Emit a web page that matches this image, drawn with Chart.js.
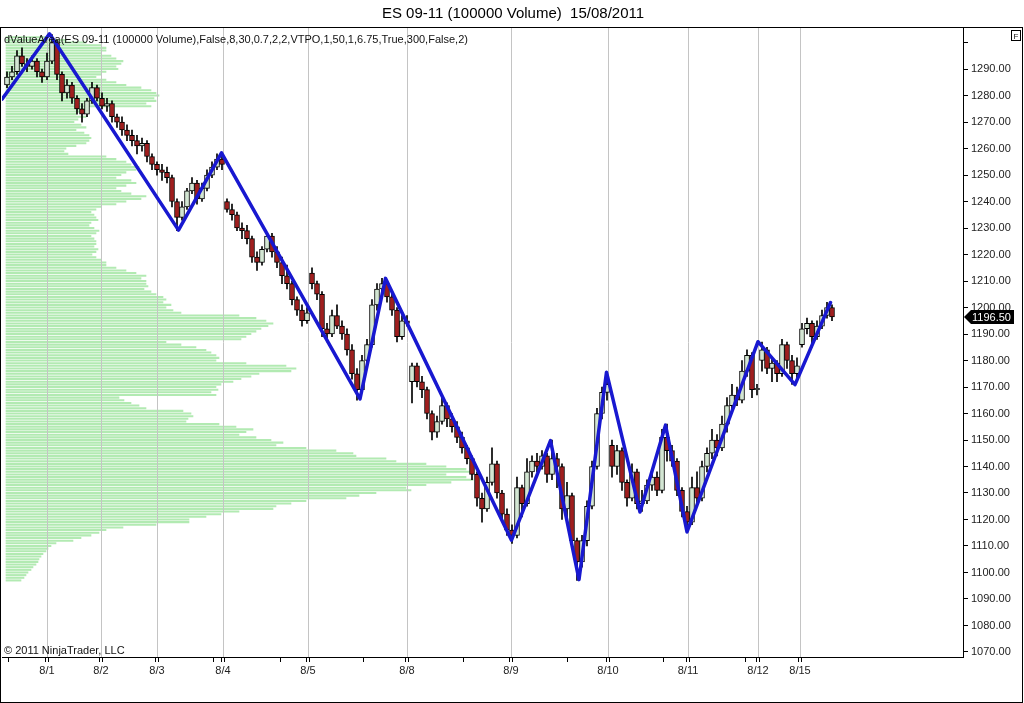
<!DOCTYPE html>
<html lang="en">
<head>
    <meta charset="UTF-8">
    <title>ES 09-11 (100000 Volume)</title>
    <script src="https://cdn.jsdelivr.net/npm/chart.js"></script>
    <style>
        body { margin: 0; background: #fff; }
        #wrap { position: relative; width: 1024px; height: 703px; }
        #profileBox { position: absolute; left: 2px; top: 28px; width: 961px; height: 629px; z-index: 0; }
        #mainBox { position: absolute; left: 0; top: 0; width: 1024px; height: 703px; z-index: 1; }
    </style>
</head>
<body>
<div id="wrap">
    <div id="profileBox"><canvas id="profileChart"></canvas></div>
    <div id="mainBox"><canvas id="priceChart"></canvas></div>
</div>
<script>
const TITLE = 'ES 09-11 (100000 Volume)  15/08/2011';
const INDICATOR = 'dValueArea(ES 09-11 (100000 Volume),False,8,30,0.7,2,2,VTPO,1,50,1,6.75,True,300,False,2)';
const COPYRIGHT = '\u00a9 2011 NinjaTrader, LLC';

// price axis
const Y_MIN = 1068.1;
const Y_MAX = 1305.5;
const PRICE_TICKS = [1070, 1080, 1090, 1100, 1110, 1120, 1130, 1140, 1150, 1160, 1170, 1180, 1190, 1200, 1210, 1220, 1230, 1240, 1250, 1260, 1270, 1280, 1290, 1300];

// session starts (bar index) and labels, plus the small hour marks between them
const DATE_POS = [9, 19.8, 31, 44.2, 61.2, 81, 101.8, 121.2, 137.2, 151.2, 159.6];
const DATE_LABELS = ['8/1', '8/2', '8/3', '8/4', '8/5', '8/8', '8/9', '8/10', '8/11', '8/12', '8/15'];
const MINOR_POS = [1.2, 42.2, 55.6, 72.2, 92.2, 113, 132.2, 148.6];
const X_MAX = 192.2;

// candles, bar 1..166
const OPENS = [
    1284,1287,1289,1295,1292,1291,1293,1289,1287,1293,
    1300,1288,1281,1284,1279,1275,1273,1278,1283,1279,
    1276,1277,1272,1270,1267,1265,1263,1261,1262,1257,
    1254,1252,1251,1249,1240,1234,1238,1244,1247,1241,
    1245,1250,1253,1256,1240,1237,1235,1230,1229,1226,
    1219,1217,1222,1227,1221,1217,1212,1209,1203,1199,
    1195,1213,1209,1205,1192,1190,1197,1193,1190,1184,
    1175,1169,1180,1186,1201,1207,1209,1204,1199,1189,
    1195,1172,1178,1172,1169,1160,1153,1157,1163,1158,
    1155,1151,1147,1143,1137,1128,1124,1134,1141,1130,
    1122,1116,1114,1132,1126,1138,1142,1140,1144,1137,
    1143,1140,1124,1129,1112,1104,1112,1125,1140,1160,
    1168,1148,1140,1146,1134,1128,1138,1126,1127,1133,
    1136,1131,1151,1146,1142,1131,1123,1119,1132,1128,
    1140,1145,1150,1147,1156,1163,1167,1165,1176,1182,
    1169,1180,1184,1177,1179,1175,1186,1180,1175,1186,
    1192,1194,1189,1193,1197,1200
];
const HIGHS = [
    1289,1291,1297,1298,1294,1295,1294,1290,1296,1303,
    1301,1289,1286,1285,1280,1277,1279,1285,1284,1281,
    1279,1278,1273,1272,1269,1267,1265,1264,1263,1258,
    1255,1254,1253,1250,1241,1240,1245,1249,1248,1247,
    1252,1255,1258,1258,1241,1239,1236,1232,1231,1227,
    1221,1223,1228,1228,1223,1219,1216,1210,1204,1201,
    1200,1215,1210,1206,1194,1199,1201,1195,1192,1186,
    1177,1182,1188,1203,1209,1211,1210,1206,1200,1197,
    1197,1179,1179,1174,1170,1161,1159,1167,1164,1160,
    1157,1153,1148,1144,1138,1130,1136,1147,1142,1131,
    1124,1118,1136,1133,1143,1144,1145,1146,1145,1150,
    1145,1141,1134,1130,1113,1114,1127,1142,1162,1170,
    1175,1150,1148,1147,1135,1141,1139,1131,1135,1139,
    1138,1154,1156,1148,1143,1132,1125,1136,1138,1142,
    1147,1154,1152,1159,1166,1171,1170,1180,1184,1183,
    1171,1187,1185,1181,1180,1188,1187,1182,1181,1194,
    1196,1195,1195,1199,1202,1201
];
const LOWS = [
    1283,1286,1288,1291,1289,1290,1287,1285,1286,1292,
    1286,1278,1279,1277,1273,1270,1272,1277,1278,1275,
    1274,1270,1268,1265,1263,1261,1258,1259,1255,1252,
    1250,1248,1247,1238,1229,1233,1237,1243,1239,1240,
    1244,1249,1252,1252,1236,1233,1229,1226,1224,1217,
    1214,1216,1221,1219,1215,1209,1207,1201,1197,1193,
    1194,1207,1203,1189,1187,1189,1192,1188,1182,1173,
    1165,1168,1179,1185,1199,1204,1202,1197,1187,1188,
    1193,1164,1170,1166,1158,1150,1151,1156,1155,1153,
    1149,1145,1141,1135,1125,1119,1123,1133,1128,1120,
    1114,1111,1113,1121,1125,1136,1138,1139,1134,1135,
    1132,1120,1118,1109,1097,1102,1110,1124,1139,1158,
    1165,1136,1137,1131,1125,1127,1124,1123,1126,1131,
    1129,1130,1142,1140,1129,1121,1115,1118,1125,1127,
    1138,1143,1144,1146,1153,1160,1163,1164,1174,1166,
    1167,1176,1175,1172,1172,1174,1177,1171,1173,1185,
    1190,1185,1188,1192,1196,1195
];
const CLOSES = [
    1287,1289,1295,1292,1291,1293,1289,1287,1293,1300,
    1288,1281,1284,1279,1275,1273,1278,1283,1279,1276,
    1277,1272,1270,1267,1265,1263,1261,1262,1257,1254,
    1252,1251,1249,1240,1234,1238,1244,1247,1241,1245,
    1250,1253,1256,1254,1237,1235,1230,1229,1226,1219,
    1217,1222,1227,1221,1217,1212,1209,1203,1199,1195,
    1198,1209,1205,1192,1190,1197,1193,1190,1184,1175,
    1169,1180,1186,1201,1207,1209,1204,1199,1189,1195,
    1194,1178,1172,1169,1160,1153,1157,1163,1158,1155,
    1151,1147,1143,1137,1128,1124,1134,1141,1130,1122,
    1116,1114,1132,1126,1138,1142,1140,1144,1137,1143,
    1140,1124,1129,1112,1104,1112,1125,1140,1160,1168,
    1171,1140,1146,1134,1128,1138,1126,1127,1133,1136,
    1131,1151,1146,1142,1131,1123,1119,1132,1128,1140,
    1145,1150,1147,1156,1163,1167,1165,1176,1182,1169,
    1169.5,1184,1177,1179,1175,1186,1180,1175,1178,1192,
    1194,1189,1193,1197,1200,1196.5
];

// zigzag swing points (bar index, price)
const ZZ_X = [0, 9.5, 35.3, 43.9, 71.6, 76.7, 101.9, 109.7, 115.4, 120.9, 127.6, 132.7, 137, 151.2, 158.6, 165.7];
const ZZ_Y = [1278.6, 1303.3, 1229.2, 1258.4, 1165.5, 1211, 1112.2, 1149.8, 1097.3, 1175.6, 1122.8, 1155.6, 1115.3, 1187.1, 1170.9, 1201.9];

// volume profile, one value per point from PROFILE_TOP downwards
const PROFILE_TOP = 1302;
const PROFILE_VOL = [
    40,60,80,95,100,
    100,95,105,110,
    117,115,110,112,
    100,95,90,100,
    110,120,135,
    145,150,153,148,150,140,145,
    83,75,70,80,72,68,75,80,70,78,83,
    85,83,80,70,
    60,58,62,
    100,110,120,125,133,130,120,115,110,125,130,120,110,115,125,140,135,120,
    110,95,90,
    85,88,90,92,85,83,88,93,90,85,88,90,
    90,88,92,90,86,90,95,100,
    100,110,120,130,140,135,140,
    140,142,138,145,150,
    157,160,157,165,160,
    167,175,
    233,250,260,267,262,255,250,245,240,235,
    160,175,190,200,
    205,210,213,210,
    240,280,290,285,
    253,245,235,227,
    215,210,212,205,210,
    113,118,
    125,133,140,
    177,185,187,182,180,
    213,230,247,240,
    233,250,265,277,270,
    300,330,347,350,
    380,390,420,
    440,460,467,
    440,460,467,445,
    420,400,405,
    370,353,340,
    300,285,270,267,
    233,215,200,183,
    183,150,117,100,
    93,85,75,67,
    50,45,42,40,
    37,35,33,32,30,
    27,25,22,20,18,15
];

const FONT = 'Arial, "Liberation Sans", sans-serif';
const UP_COLOR = '#d3e6d3';
const DOWN_COLOR = '#a01e1e';
const ZZ_COLOR = '#1818d0';
const PROFILE_COLOR = '#b2eab2';

new Chart(document.getElementById('profileChart'), {
    type: 'bar',
    data: {
        datasets: [{
            data: PROFILE_VOL.map((v, k) => ({ x: v, y: PROFILE_TOP - k })),
            backgroundColor: PROFILE_COLOR,
            borderWidth: 0,
            barThickness: 1.4
        }]
    },
    options: {
        indexAxis: 'y',
        responsive: true,
        maintainAspectRatio: false,
        animation: false,
        events: [],
        layout: { padding: 0 },
        plugins: { legend: { display: false }, tooltip: { enabled: false } },
        scales: {
            x: { type: 'linear', min: -4, max: 957, display: false },
            y: { type: 'linear', min: Y_MIN, max: Y_MAX, offset: false, display: false, grid: { offset: false } }
        }
    }
});

// x ticks: a grey session line per date, a double tick mark beside it, and single hour marks
const xTicks = [];
DATE_POS.forEach((p, k) => {
    xTicks.push({ value: p, kind: 'date', text: DATE_LABELS[k] });
    xTicks.push({ value: p - 0.23, kind: 'mark', text: '' });
    xTicks.push({ value: p + 0.23, kind: 'mark', text: '' });
});
MINOR_POS.forEach(p => xTicks.push({ value: p, kind: 'mark', text: '' }));
xTicks.sort((a, b) => a.value - b.value);

const chartDecor = {
    id: 'chartDecor',
    afterDraw(chart) {
        const ctx = chart.ctx;
        const area = chart.chartArea;
        const yScale = chart.scales.y;
        ctx.save();
        // outer frame
        ctx.strokeStyle = '#000';
        ctx.lineWidth = 1;
        ctx.strokeRect(0.5, 27.5, 1022, 675);
        // texts
        ctx.fillStyle = '#111';
        ctx.font = '11px ' + FONT;
        ctx.textBaseline = 'alphabetic';
        ctx.textAlign = 'left';
        ctx.fillText(INDICATOR, 4, 43);
        ctx.fillText(COPYRIGHT, 4, 654);
        // F box
        ctx.strokeRect(1011.5, 30.5, 9, 10);
        ctx.font = '8px ' + FONT;
        ctx.fillText('F', 1013.5, 39);
        // last price marker
        const last = CLOSES[CLOSES.length - 1];
        const py = Math.round(yScale.getPixelForValue(last));
        const x0 = area.right + 1;
        ctx.fillStyle = '#000';
        ctx.beginPath();
        ctx.moveTo(x0, py);
        ctx.lineTo(x0 + 7, py - 7);
        ctx.lineTo(1014, py - 7);
        ctx.lineTo(1014, py + 7);
        ctx.lineTo(x0 + 7, py + 7);
        ctx.closePath();
        ctx.fill();
        ctx.fillStyle = '#fff';
        ctx.font = '11px ' + FONT;
        ctx.textBaseline = 'middle';
        ctx.fillText(last.toFixed(2), x0 + 8, py + 1);
        ctx.restore();
    }
};

new Chart(document.getElementById('priceChart'), {
    type: 'bar',
    data: {
        datasets: [
            {
                type: 'bar',
                data: HIGHS.map((h, k) => ({ x: k + 1, y: [LOWS[k], h] })),
                backgroundColor: '#000',
                borderWidth: 0,
                barThickness: 1,
                grouped: false,
                order: 3
            },
            {
                type: 'bar',
                data: OPENS.map((o, k) => ({ x: k + 1, y: [o, CLOSES[k]] })),
                backgroundColor: OPENS.map((o, k) => CLOSES[k] >= o ? UP_COLOR : DOWN_COLOR),
                borderColor: '#000',
                borderWidth: 1,
                borderSkipped: false,
                barThickness: 5,
                minBarLength: 1,
                grouped: false,
                order: 2
            },
            {
                type: 'line',
                data: ZZ_X.map((x, k) => ({ x: x, y: ZZ_Y[k] })),
                borderColor: ZZ_COLOR,
                borderWidth: 3.5,
                borderJoinStyle: 'round',
                borderCapStyle: 'round',
                pointRadius: 0,
                tension: 0,
                order: 1
            }
        ]
    },
    options: {
        responsive: true,
        maintainAspectRatio: false,
        animation: false,
        events: [],
        layout: { padding: { left: 2, right: 0, top: 0, bottom: 0 } },
        plugins: {
            legend: { display: false },
            tooltip: { enabled: false },
            title: {
                display: true,
                text: TITLE,
                color: '#000',
                font: { family: FONT, size: 15, weight: 'normal' },
                padding: { top: 5, bottom: 5 }
            }
        },
        scales: {
            x: {
                type: 'linear',
                min: 0,
                max: X_MAX,
                offset: false,
                grid: {
                    offset: false,
                    tickLength: 5,
                    color: c => (c.tick && c.tick.kind === 'date') ? '#c4c4c4' : 'rgba(0,0,0,0)',
                    tickColor: c => (c.tick && c.tick.kind === 'mark') ? '#000' : 'rgba(0,0,0,0)'
                },
                border: { color: '#000' },
                afterBuildTicks: scale => { scale.ticks = xTicks.map(t => Object.assign({}, t)); },
                afterFit: scale => { scale.height = 46; },
                ticks: {
                    autoSkip: false,
                    maxRotation: 0,
                    padding: 2,
                    color: '#222',
                    font: { family: FONT, size: 11 },
                    callback: (value, index, ticks) => ticks[index].text
                }
            },
            y: {
                type: 'linear',
                position: 'right',
                min: Y_MIN,
                max: Y_MAX,
                grid: { drawOnChartArea: false, tickColor: '#000', tickLength: 5 },
                border: { color: '#000' },
                afterBuildTicks: scale => { scale.ticks = PRICE_TICKS.map(v => ({ value: v })); },
                afterFit: scale => { scale.width = 61; },
                ticks: {
                    padding: 3,
                    color: '#222',
                    font: { family: FONT, size: 11 },
                    callback: value => value >= 1300 ? '' : value.toFixed(2)
                }
            }
        }
    },
    plugins: [chartDecor]
});
</script>
</body>
</html>
